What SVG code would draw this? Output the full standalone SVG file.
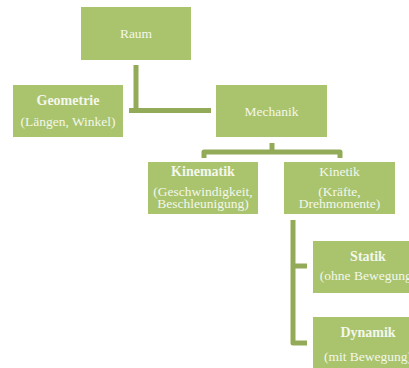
<svg xmlns="http://www.w3.org/2000/svg" width="409" height="368" viewBox="0 0 409 368">
  <style>
    .box { fill: #a9c46c; }
    .lbl { font-family: "Liberation Serif", "Times New Roman", serif; font-size: 13.5px; fill: #f4f7ec; text-anchor: middle; }
    .b { font-weight: bold; font-size: 14px; }
    .conn { fill: none; stroke: #93ab58; stroke-width: 5; }
  </style>
  <rect width="409" height="368" fill="#ffffff"/>

  <g id="connectors">
    <!-- Raum to Geometrie / Mechanik -->
    <path class="conn" d="M136 65 V110.5 M129 110.5 H211"/>
    <!-- Mechanik to Kinematik / Kinetik bracket -->
    <path class="conn" stroke-linejoin="round" d="M272 143 V152 M204 158 V152 H340 V158" stroke-width="4.5"/>
    <!-- Kinetik to Statik / Dynamik -->
    <path class="conn" stroke-linejoin="round" d="M293 220 V343 H307 M293 266 H307"/>
  </g>

  <g id="raum">
    <rect class="box" x="81" y="7" width="110" height="53"/>
    <text class="lbl" x="136" y="38">Raum</text>
  </g>

  <g id="geometrie">
    <rect class="box" x="13" y="85" width="110" height="52"/>
    <text class="lbl b" x="68" y="105">Geometrie</text>
    <text class="lbl" x="68" y="126">(Längen, Winkel)</text>
  </g>

  <g id="mechanik">
    <rect class="box" x="216" y="85" width="111" height="52"/>
    <text class="lbl" x="271.5" y="116">Mechanik</text>
  </g>

  <g id="kinematik">
    <rect class="box" x="148" y="162" width="110" height="52"/>
    <text class="lbl b" x="203" y="176">Kinematik</text>
    <text class="lbl" x="203" y="196">(Geschwindigkeit,</text>
    <text class="lbl" x="203" y="208">Beschleunigung)</text>
  </g>

  <g id="kinetik">
    <rect class="box" x="284" y="162" width="111" height="52"/>
    <text class="lbl" x="339.5" y="176">Kinetik</text>
    <text class="lbl" x="339.5" y="196">(Kräfte,</text>
    <text class="lbl" x="339.5" y="208">Drehmomente)</text>
  </g>

  <g id="statik">
    <rect class="box" x="313" y="241" width="110" height="52"/>
    <text class="lbl b" x="368" y="261">Statik</text>
    <text class="lbl" x="368" y="280">(ohne Bewegung)</text>
  </g>

  <g id="dynamik">
    <rect class="box" x="313" y="317" width="110" height="53"/>
    <text class="lbl b" x="368" y="337">Dynamik</text>
    <text class="lbl" x="368" y="361">(mit Bewegung)</text>
  </g>
</svg>
